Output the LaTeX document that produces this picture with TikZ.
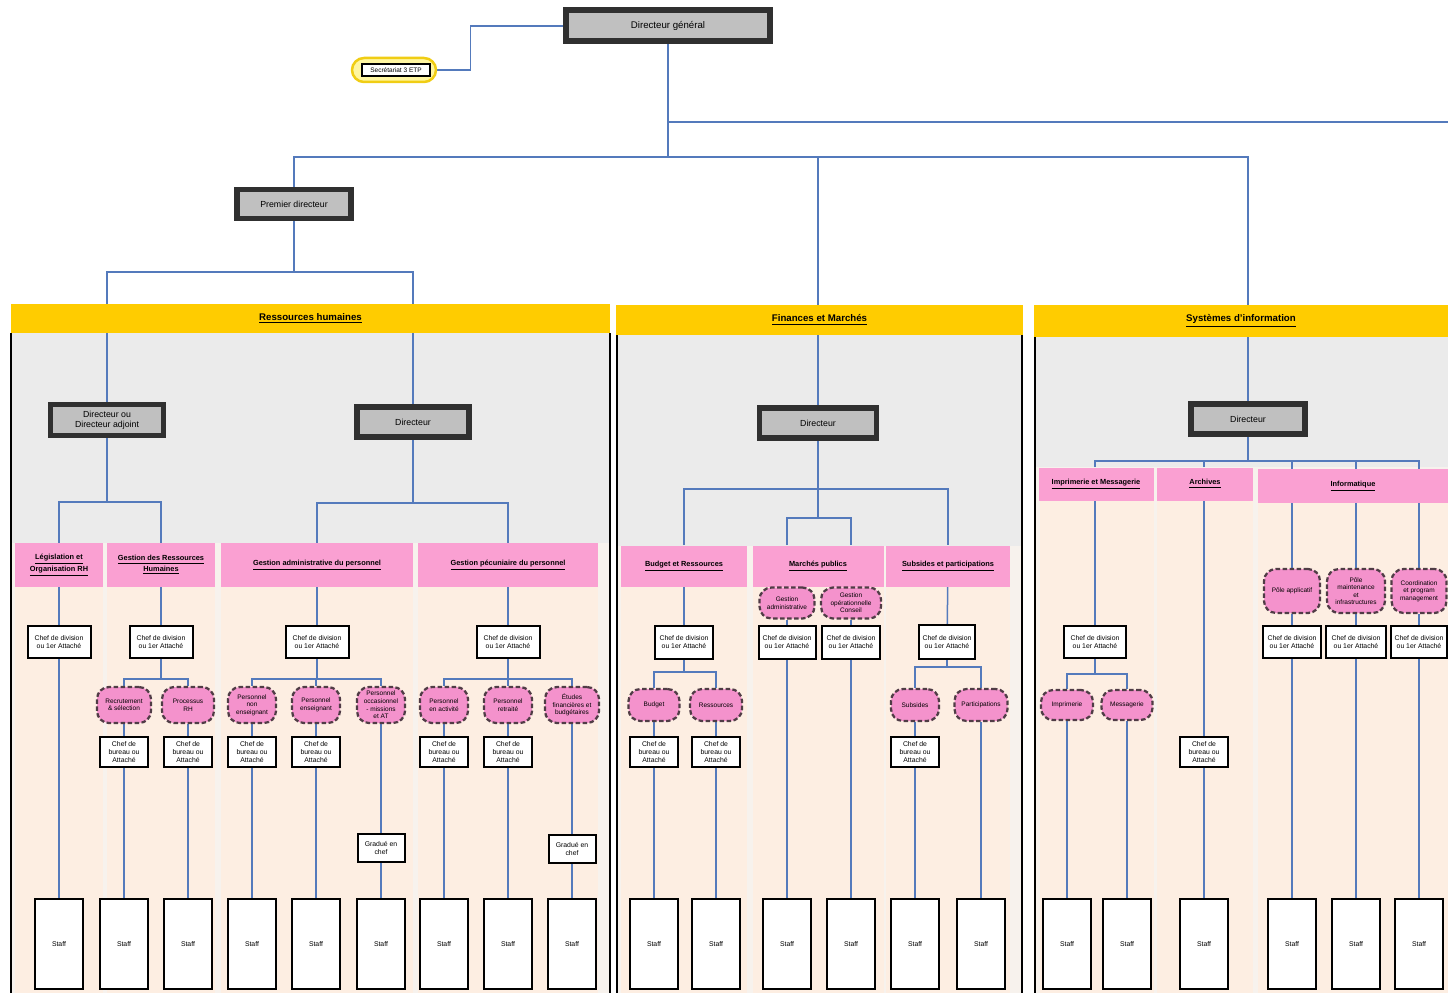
\documentclass[tikz,border=0pt]{standalone}
\usepackage{fontspec}
\setmainfont{Liberation Sans}

\definecolor{linec}{RGB}{84,122,188}
\definecolor{dirgrey}{RGB}{192,192,192}
\definecolor{dirdraw}{RGB}{48,48,48}
\definecolor{yellowh}{RGB}{255,204,0}
\definecolor{pinkh}{RGB}{250,160,210}
\definecolor{pinko}{RGB}{244,146,204}
\definecolor{ovaldraw}{RGB}{80,60,70}
\definecolor{greyc}{RGB}{235,235,235}
\definecolor{peachc}{RGB}{253,238,226}
\definecolor{peachbase}{RGB}{247,242,237}
\definecolor{secfill}{RGB}{255,246,160}
\definecolor{secdraw}{RGB}{240,205,20}

\newcommand\fsA{\fontsize{5.5}{6.3}\selectfont}
\newcommand\fsB{\fontsize{5}{5.8}\selectfont}
\newcommand\fsC{\fontsize{4.2}{5}\selectfont}
\newcommand\fsD{\fontsize{3.9}{4.5}\selectfont}
\newcommand\fsE{\fontsize{3.7}{4.3}\selectfont}

\pgfdeclarelayer{panels}
\pgfdeclarelayer{links}
\pgfsetlayers{panels,links,main}

\begin{document}
\begin{tikzpicture}[x=0.2mm,y=-0.2mm,
  sz/.style 2 args={minimum width=#1*0.2mm, minimum height=#2*0.2mm},
  conn/.style={draw=linec, line width=0.3mm},
  chief/.style={draw=dirdraw, line width=1.1mm, fill=dirgrey, inner sep=0pt, align=center, font=\fsB},
  box/.style={draw=black, line width=0.4mm, fill=white, inner sep=0pt, align=center, font=\fsD},
  dept/.style={fill=yellowh, inner sep=0pt, font=\fsA\bfseries},
  unit/.style={fill=pinkh, inner sep=0pt, align=center, font=\fsC\bfseries},
  cell/.style={fill=pinko, draw=ovaldraw, line width=0.45mm, dash pattern=on 0.9mm off 0.5mm,
               rounded corners=2.4mm, inner sep=0pt, align=center, font=\fsE},
  staff/.style={box, sz={48}{90}},
  panelline/.style={draw=black, line width=0.35mm}]
\useasboundingbox (0,0) rectangle (1448,993);

% ---------- department panels ----------
\begin{pgfonlayer}{panels}
  % Ressources humaines
  \fill[greyc] (11,333) rectangle (610,543);
  \fill[peachbase] (11,543) rectangle (610,993);
  \foreach \a/\b in {15/103, 107/215, 221/413, 418/598}
    \fill[peachc] (\a,587) rectangle (\b,993);
  \draw[panelline] (11,333) -- (11,993) (610,333) -- (610,993);
  % Finances et Marchés
  \fill[greyc] (616,335) rectangle (1023,546);
  \fill[peachbase] (616,546) rectangle (1023,993);
  \foreach \a/\b in {621/747, 753/884, 886/1010}
    \fill[peachc] (\a,587) rectangle (\b,993);
  \draw[panelline] (617,335) -- (617,993) (1022,335) -- (1022,993);
  % Systèmes d'information
  \fill[greyc] (1034,337) rectangle (1448,467);
  \fill[peachbase] (1034,467) rectangle (1448,993);
  \foreach \a/\b in {1040/1154, 1157/1253, 1258/1448}
    \fill[peachc] (\a,500) rectangle (\b,993);
  \draw[panelline] (1035,337) -- (1035,993);
\end{pgfonlayer}

% ---------- department headers ----------
\node[dept, sz={599}{29}] (rhh) at (310.5,318.5) {\underline{Ressources humaines}};
\node[dept, sz={407}{30}] (fih) at (819.5,320) {\underline{Finances et Marchés}};
\node[dept, sz={414}{32}] (sih) at (1241,321) {\underline{Systèmes d'information}};

% ---------- direction ----------
\node[chief, sz={204}{31}, line width=1.2mm, font=\fsA] (dg) at (668,26) {Directeur général};
\node[fill=secfill, draw=secdraw, line width=0.5mm, rounded corners=2.4mm, sz={84}{24}] (secb) at (394,70) {};
\node[box, sz={68}{12}, font=\fsE] (sec) at (396,70) {Secrétariat 3 ETP};
\node[chief, sz={114}{29}] (pd) at (294,204) {Premier directeur};

\node[chief, sz={113}{31}] (rhA) at (107,420) {Directeur ou\\Directeur adjoint};
\node[chief, sz={112}{30}] (rhB) at (413,422) {Directeur};
\node[chief, sz={117}{30}] (fid) at (818,423) {Directeur};
\node[chief, sz={114}{30}] (sid) at (1248,419) {Directeur};

% ---------- Ressources humaines ----------
\node[unit, sz={88}{44}] (p1) at (59,565) {\underline{Législation et}\\\underline{Organisation RH}};
\node[unit, sz={108}{44}] (p2) at (161,565) {\underline{Gestion des Ressources}\\\underline{Humaines}};
\node[unit, sz={192}{44}] (p3) at (317,565) {\underline{Gestion administrative du personnel}};
\node[unit, sz={180}{44}] (p4) at (508,565) {\underline{Gestion pécuniaire du personnel}};

\foreach \n/\x in {c1/59, c2/161, c3/317, c4/508}
  \node[box, sz={63}{32}] (\n) at (\x,642) {Chef de division\\ou 1er Attaché};

\node[cell, sz={54}{36}] (r1) at (124,705) {Recrutement\\\& sélection};
\node[cell, sz={52}{36}] (r2) at (188,705) {Processus\\RH};
\node[cell, sz={48}{36}] (a1) at (252,705) {Personnel\\non\\enseignant};
\node[cell, sz={48}{36}] (a2) at (316,705) {Personnel\\enseignant};
\node[cell, sz={48}{36}] (a3) at (381,705) {Personnel\\occasionnel\\- missions\\et AT};
\node[cell, sz={48}{36}] (g1) at (444,705) {Personnel\\en activité};
\node[cell, sz={48}{36}] (g2) at (508,705) {Personnel\\retraité};
\node[cell, sz={54}{36}] (g3) at (572,705) {Études\\financières et\\budgétaires};

\foreach \n/\x in {r1b/124, r2b/188, a1b/252, a2b/316, g1b/444, g2b/508}
  \node[box, sz={48}{30}] (\n) at (\x,752) {Chef de\\bureau ou\\Attaché};
\node[box, sz={47}{28}] (gr1) at (381,848) {Gradué en\\chef};
\node[box, sz={47}{28}] (gr2) at (572,849) {Gradué en\\chef};

\foreach \n/\x in {1/59, 2/124, 3/188, 4/252, 5/316, 6/381, 7/444, 8/508, 9/572}
  \node[staff] (rs\n) at (\x,944) {Staff};

% ---------- Finances et Marchés ----------
\node[unit, sz={126}{41}] (f1) at (684,566) {\underline{Budget et Ressources}};
\node[unit, sz={131}{41}] (f2) at (818,566) {\underline{Marchés publics}};
\node[unit, sz={124}{41}] (f3) at (948,566) {\underline{Subsides et participations}};

\node[box, sz={58}{33}] (fc1) at (684,642) {Chef de division\\ou 1er Attaché};
\node[cell, sz={55}{31}] (ga) at (787,603) {Gestion\\administrative};
\node[cell, sz={60}{31}] (go) at (851,603) {Gestion\\opérationnelle\\Conseil};
\node[box, sz={57}{33}] (gac) at (787,642) {Chef de division\\ou 1er Attaché};
\node[box, sz={58}{33}] (goc) at (851,642) {Chef de division\\ou 1er Attaché};
\node[box, sz={56}{34}] (fc3) at (947,642) {Chef de division\\ou 1er Attaché};

\node[cell, sz={51}{32}] (b1) at (654,705) {Budget};
\node[cell, sz={52}{32}] (b2) at (716,705) {Ressources};
\node[cell, sz={48}{32}] (u1) at (915,705) {Subsides};
\node[cell, sz={53}{32}] (u2) at (981,705) {Participations};

\foreach \n/\x in {b1b/654, b2b/716, u1b/915}
  \node[box, sz={48}{30}] (\n) at (\x,752) {Chef de\\bureau ou\\Attaché};

\foreach \n/\x in {1/654, 2/716, 3/787, 4/851, 5/915, 6/981}
  \node[staff] (fs\n) at (\x,944) {Staff};

% ---------- Systèmes d'information ----------
\node[unit, sz={115}{33}] (s1) at (1096,484) {\underline{Imprimerie et Messagerie}};
\node[unit, sz={96}{33}] (s2) at (1205,484) {\underline{Archives}};
\node[unit, sz={190}{34}] (s3) at (1353,486) {\underline{Informatique}};

\node[box, sz={62}{32}] (sc1) at (1095,642) {Chef de division\\ou 1er Attaché};
\node[cell, sz={52}{30}] (m1) at (1067,705) {Imprimerie};
\node[cell, sz={51}{30}] (m2) at (1127,705) {Messagerie};
\node[box, sz={48}{30}] (archb) at (1204,752) {Chef de\\bureau ou\\Attaché};

\node[cell, sz={56}{44}] (i1) at (1292,591) {Pôle applicatif};
\node[cell, sz={58}{44}] (i2) at (1356,591) {Pôle\\maintenance\\et\\infrastructures};
\node[cell, sz={55}{44}] (i3) at (1419,591) {Coordination\\et program\\management};
\node[box, sz={58}{32}] (ic1) at (1292,642) {Chef de division\\ou 1er Attaché};
\node[box, sz={60}{32}] (ic2) at (1356,642) {Chef de division\\ou 1er Attaché};
\node[box, sz={56}{32}] (ic3) at (1419,642) {Chef de division\\ou 1er Attaché};

\foreach \n/\x in {1/1067, 2/1127, 3/1204, 4/1292, 5/1356, 6/1419}
  \node[staff] (ss\n) at (\x,944) {Staff};

% ---------- connectors ----------
\begin{pgfonlayer}{links}
  \coordinate (top) at (668,157);
  \coordinate (rbr) at (668,122);
  \coordinate (edge) at (1448,122);
  \draw[conn] (secb.east) -- ++(33,0) |- (dg.west);
  \draw[conn] (dg.south) -- (top);
  \draw[conn] (rbr) -- (edge);
  \draw[conn] (pd.north) |- (top) -| (sid.north);
  \draw[conn] (fid.north) -- (fid.north |- top);

  \coordinate (pdh) at (294,272);
  \draw[conn] (pd.south) -- (pdh);
  \draw[conn] (rhA.north) |- (pdh) -| (rhB.north);

  % Ressources humaines
  \coordinate (rhAb) at (107,502);
  \coordinate (rhBb) at (413,503);
  \draw[conn] (rhA.south) -- (rhAb);
  \draw[conn] (p1.north) |- (rhAb) -| (p2.north);
  \draw[conn] (rhB.south) -- (rhBb);
  \draw[conn] (p3.north) |- (rhBb) -| (p4.north);
  \draw[conn] (p1) -- (c1);
  \draw[conn] (p2) -- (c2);
  \draw[conn] (p3) -- (c3);
  \draw[conn] (p4) -- (c4);
  \coordinate (c2b) at (161,679);
  \coordinate (c3b) at (317,679);
  \coordinate (c4b) at (508,679);
  \draw[conn] (c2.south) -- (c2b);
  \draw[conn] (r1.north) |- (c2b) -| (r2.north);
  \draw[conn] (c3.south) -- (c3b);
  \draw[conn] (a1.north) |- (c3b) -| (a3.north);
  \draw[conn] (a2.north) -- (a2.north |- c3b);
  \draw[conn] (c4.south) -- (c4b);
  \draw[conn] (g1.north) |- (c4b) -| (g3.north);
  \draw[conn] (g2.north) -- (g2.north |- c4b);
  \draw[conn] (c1) -- (rs1);
  \draw[conn] (r1) -- (r1b) -- (rs2);
  \draw[conn] (r2) -- (r2b) -- (rs3);
  \draw[conn] (a1) -- (a1b) -- (rs4);
  \draw[conn] (a2) -- (a2b) -- (rs5);
  \draw[conn] (a3) -- (gr1) -- (rs6);
  \draw[conn] (g1) -- (g1b) -- (rs7);
  \draw[conn] (g2) -- (g2b) -- (rs8);
  \draw[conn] (g3) -- (gr2) -- (rs9);

  % Finances et Marchés
  \coordinate (fb1) at (818,489);
  \coordinate (fb2) at (818,518);
  \draw[conn] (fid.south) -- (fb1) -- (fb2);
  \draw[conn] (f1.north) |- (fb1) -| (f3.north);
  \draw[conn] (f2.north -| ga) |- (fb2) -| (f2.north -| go);
  \draw[conn] (f1) -- (fc1);
  \draw[conn] (f3) -- (fc3);
  \coordinate (fc1b) at (684,672);
  \coordinate (fc3b) at (947,667);
  \draw[conn] (fc1.south) -- (fc1b);
  \draw[conn] (b1.north) |- (fc1b) -| (b2.north);
  \draw[conn] (fc3.south) -- (fc3b);
  \draw[conn] (u1.north) |- (fc3b) -| (u2.north);
  \draw[conn] (b1) -- (b1b) -- (fs1);
  \draw[conn] (b2) -- (b2b) -- (fs2);
  \draw[conn] (ga) -- (gac) -- (fs3);
  \draw[conn] (go) -- (goc) -- (fs4);
  \draw[conn] (u1) -- (u1b) -- (fs5);
  \draw[conn] (u2) -- (fs6);

  % Systèmes d'information
  \coordinate (sb) at (1248,461);
  \draw[conn] (sid.south) -- (sb);
  \draw[conn] (s1.north -| sc1) |- (sb) -| (i3.north);
  \draw[conn] (s2.north -| archb) -- (archb.north |- sb);
  \draw[conn] (i1.north) -- (i1.north |- sb);
  \draw[conn] (i2.north) -- (i2.north |- sb);
  \draw[conn] (s1.south -| sc1) -- (sc1);
  \coordinate (sc1b) at (1095,674);
  \draw[conn] (sc1.south) -- (sc1b);
  \draw[conn] (m1.north) |- (sc1b) -| (m2.north);
  \draw[conn] (m1) -- (ss1);
  \draw[conn] (m2) -- (ss2);
  \draw[conn] (s2.south -| archb) -- (archb) -- (ss3);
  \draw[conn] (i1) -- (ic1) -- (ss4);
  \draw[conn] (i2) -- (ic2) -- (ss5);
  \draw[conn] (i3) -- (ic3) -- (ss6);
\end{pgfonlayer}
\end{tikzpicture}
\end{document}
